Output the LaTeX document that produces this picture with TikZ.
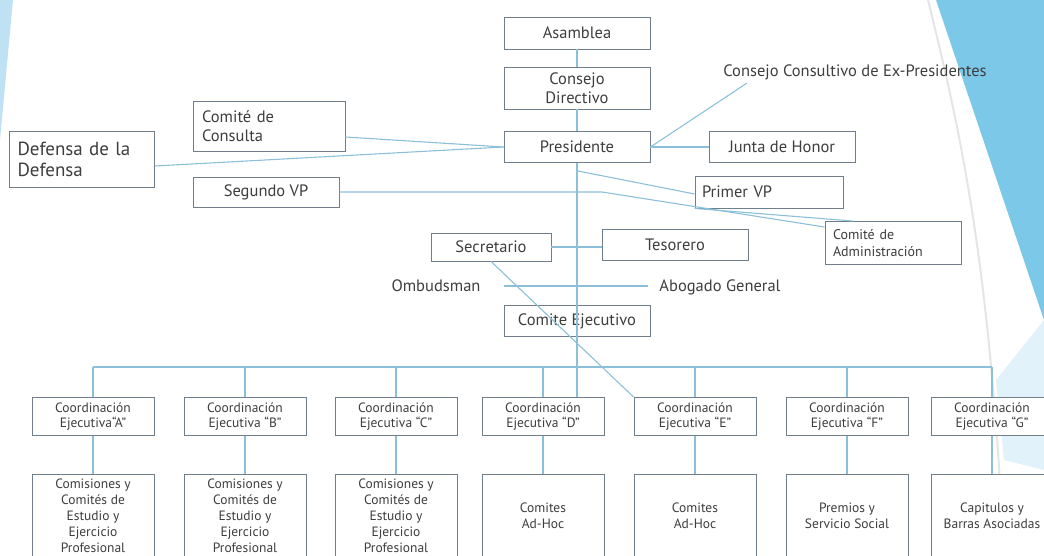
\documentclass[tikz,border=0pt]{standalone}
\usepackage{fontspec}
\setmainfont{PT Sans}
\definecolor{boxline}{RGB}{112,126,140}
\definecolor{linkblue}{RGB}{140,192,218}
\definecolor{txtgray}{RGB}{62,62,62}
\definecolor{skyblue}{RGB}{124,200,232}
\definecolor{paleblue}{RGB}{190,226,244}
\tikzset{
  unit/.style={draw=boxline, fill=white, line width=0.9pt, text=txtgray, inner sep=3pt,
    align=center, font=\fontsize{16.5}{19}\selectfont},
  coordbox/.style={unit, minimum width=122pt, minimum height=38pt, font=\fontsize{13.5}{15}\selectfont},
  lowbox/.style={unit, minimum width=122pt, minimum height=82pt, inner sep=2pt, font=\fontsize{13.5}{16}\selectfont},
  plaintext/.style={text=txtgray, font=\fontsize{16.5}{19}\selectfont},
  link/.style={draw=linkblue, line width=1.1pt}
}
\begin{document}
\begin{tikzpicture}[x=1pt,y=-1pt]
\useasboundingbox (0,0) rectangle (1044,556);
% fondo
\fill[paleblue] (0,0) -- (13,0) -- (0,140) -- cycle;
\fill[skyblue] (936,0) -- (1044,0) -- (1044,320) -- cycle;
\fill[paleblue!45] (1044,320) -- (1044,470) -- (1004,460) -- (996,380) -- cycle;
\draw[gray!20, line width=2pt] (928,0) .. controls (960,130) and (990,260) .. (1004,556);

% cabeza
\node[unit, minimum width=146pt, minimum height=32pt] (asamblea) at (577,33) {Asamblea};
\node[unit, minimum width=146pt, minimum height=42pt] (consejo) at (577,88) {Consejo\\Directivo};
\node[unit, minimum width=146pt, minimum height=31pt] (presidente) at (577,147) {Presidente};
\node[unit, minimum width=152pt, minimum height=50pt, text width=134pt, align=left] (consulta) at (269,126) {Comité de\\Consulta};
\node[unit, minimum width=145pt, minimum height=56pt, text width=129pt, align=left,
  font=\fontsize{19}{21}\selectfont] (defensa) at (82,159) {Defensa de la\\Defensa};
\node[unit, minimum width=146pt, minimum height=30pt] (segundo) at (266,192) {Segundo VP};
\node[plaintext] (consultivo) at (855,72) {Consejo Consultivo de Ex-Presidentes};
\node[unit, minimum width=146pt, minimum height=31pt] (junta) at (782,147) {Junta de Honor};
\node[unit, minimum width=148pt, minimum height=32pt, text width=134pt, align=left] (primer) at (769,192) {Primer VP};
\node[unit, minimum width=136pt, minimum height=43pt, text width=120pt, align=left,
  font=\fontsize{14}{17}\selectfont] (admin) at (893,243) {Comité de\\Administración};
\node[unit, minimum width=120pt, minimum height=28pt] (secretario) at (491,247) {Secretario};
\node[unit, minimum width=146pt, minimum height=31pt] (tesorero) at (675,245) {Tesorero};
\node[plaintext] (ombudsman) at (436,286) {Ombudsman};
\node[plaintext] (abogado) at (720,287) {Abogado General};
\node[unit, minimum width=146pt, minimum height=31pt] (ejecutivo) at (577,321) {Comite Ejecutivo};

\coordinate (busy) at (0,367);
\coordinate (sbend) at (602,192);
\coordinate (pvp) at (578,171);

% coordinaciones
\foreach \n/\x/\t/\c in {
  A/93/{Ejecutiva“A”}/{Comisiones y\\Comités de\\Estudio y\\Ejercicio\\Profesional},
  B/245/{Ejecutiva “B”}/{Comisiones y\\Comités de\\Estudio y\\Ejercicio\\Profesional},
  C/396/{Ejecutiva “C”}/{Comisiones y\\Comités de\\Estudio y\\Ejercicio\\Profesional},
  D/543/{Ejecutiva “D”}/{Comites\\Ad-Hoc},
  E/695/{Ejecutiva “E”}/{Comites\\Ad-Hoc},
  F/847/{Ejecutiva “F”}/{Premios y\\Servicio Social},
  G/992/{Ejecutiva “G”}/{Capitulos y\\Barras Asociadas}}{
  \node[coordbox, anchor=north] (c\n) at (\x,397) {Coordinación\\\t};
  \node[lowbox, anchor=north] (l\n) at (\x,474) {\c};
  \draw[link] (c\n.north |- busy) -- (c\n);
  \draw[link] (c\n) -- (l\n);
}
\draw[link] (cA.north |- busy) -- (cG.north |- busy);

% lineas
\draw[link] (asamblea) -- (consejo);
\draw[link] (consejo) -- (presidente);
\draw[link] (presidente.south) -- (presidente.south |- cD.north);
\draw[link] ([yshift=-11pt]consulta.east) -- (presidente.west);
\draw[link] ([yshift=-7pt]defensa.east) -- (presidente.west);
\draw[link] (presidente) -- (junta);
\draw[link] (presidente.east) -- ([xshift=27pt]consultivo.south west);
\draw[link] (segundo) -- (sbend) -- ([yshift=-6pt]admin.north west);
\draw[link] (pvp) -- ([yshift=-2pt]primer.west);
\draw[link] (primer.south west) -- ([xshift=-40pt]admin.north);
\draw[link] (secretario.east) -- (secretario.east -| tesorero.west);
\draw[link, shorten <=20pt, shorten >=8pt] (ombudsman.east) -- (ombudsman.east -| abogado.west);
\draw[link] (secretario.south) -- (cE.north west);

\end{tikzpicture}
\end{document}
